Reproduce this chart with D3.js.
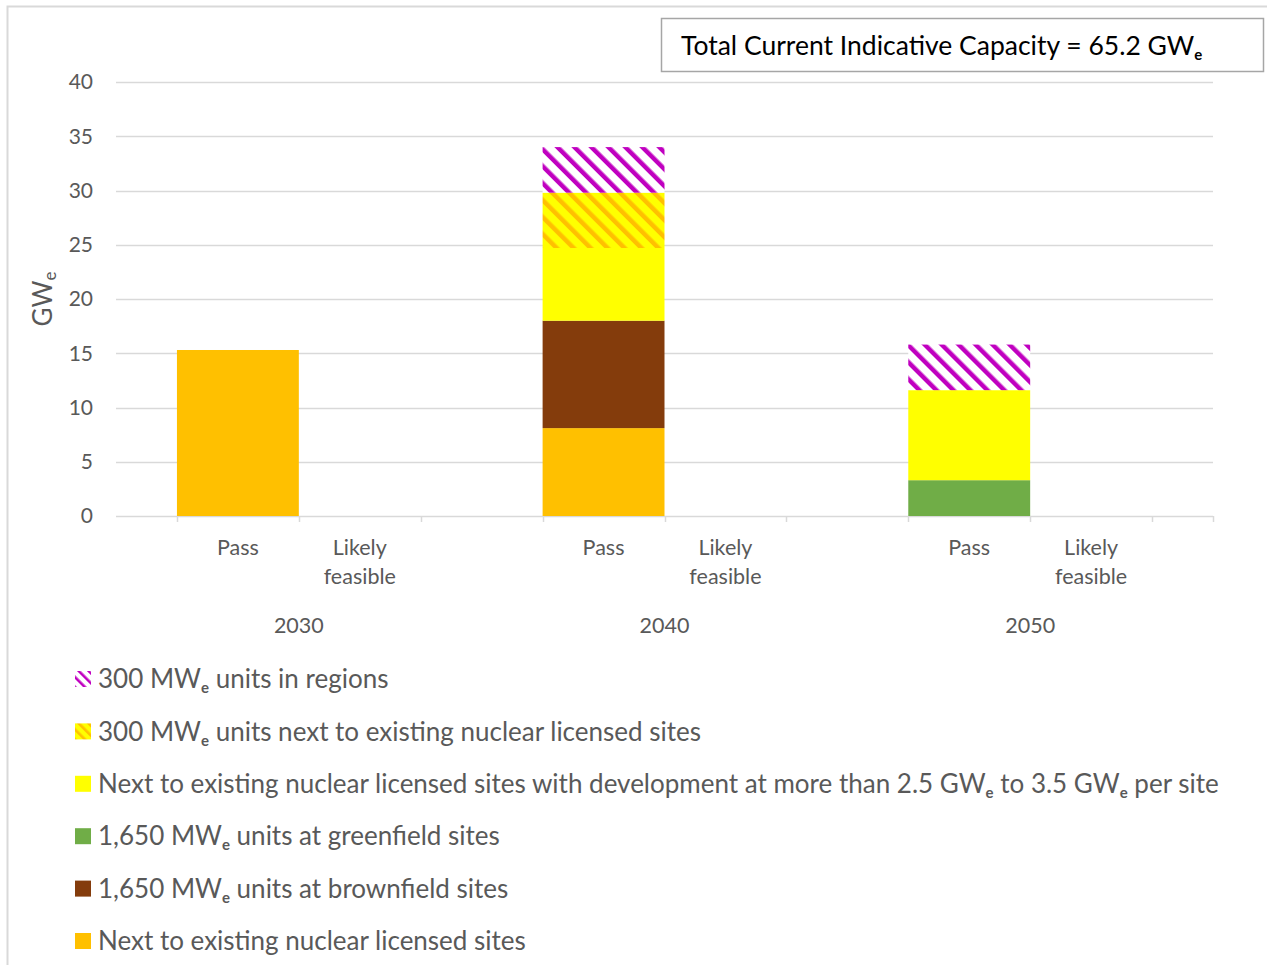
<!DOCTYPE html>
<html>
<head>
<meta charset="utf-8">
<script src="https://cdn.jsdelivr.net/npm/d3@7"></script>
<style>
  body { margin: 0; background: #fff; }
  text { font-family: Lato, "Open Sans", sans-serif; }
</style>
</head>
<body>
<script>
// data
const years = ["2030", "2040", "2050"];
const statuses = ["Pass", "Likely feasible"];
// one value per year/status pair: 2030 Pass, 2030 Likely, 2040 Pass, 2040 Likely, 2050 Pass, 2050 Likely
const seriesKeys = ["licensed", "brownfield", "greenfield", "licensedDense", "smrLicensed", "smrRegions"];
const seriesLabels = [
  "Next to existing nuclear licensed sites",
  "1,650 MW_e units at brownfield sites",
  "1,650 MW_e units at greenfield sites",
  "Next to existing nuclear licensed sites with development at more than 2.5 GW_e to 3.5 GW_e per site",
  "300 MW_e units next to existing nuclear licensed sites",
  "300 MW_e units in regions"
];
const licensed      = [15.3, 0, 8.1, 0, 0,   0];
const brownfield    = [0,    0, 9.9, 0, 0,   0];
const greenfield    = [0,    0, 0,   0, 3.3, 0];
const licensedDense = [0,    0, 6.7, 0, 8.3, 0];
const smrLicensed   = [0,    0, 5.1, 0, 0,   0];
const smrRegions    = [0,    0, 4.2, 0, 4.2, 0];
const yTicks = [0, 5, 10, 15, 20, 25, 30, 35, 40];
const totalLabel = "Total Current Indicative Capacity = 65.2 GW_e";

const W = 1267, H = 965;
const margin = { left: 116, right: 54, top: 82, bottom: 449 };
const grey = "#595959";

// rows for the stack
const rows = [];
years.forEach((y, i) => statuses.forEach((s, j) => {
  const k = i * 2 + j;
  rows.push({
    key: y + "|" + s, year: y, status: s,
    licensed: licensed[k], brownfield: brownfield[k], greenfield: greenfield[k],
    licensedDense: licensedDense[k], smrLicensed: smrLicensed[k], smrRegions: smrRegions[k]
  });
}));

// slots: year groups separated by an empty slot
const slots = [];
years.forEach((y, i) => {
  statuses.forEach(s => slots.push(y + "|" + s));
  if (i < years.length - 1) slots.push("gap" + i);
});

const x = d3.scaleBand()
  .domain(slots)
  .range([margin.left, W - margin.right])
  .paddingInner(0)
  .paddingOuter(0.5);
const y = d3.scaleLinear()
  .domain([0, 40])
  .range([H - margin.bottom, margin.top]);

const stack = d3.stack().keys(seriesKeys);
const stacked = stack(rows);

const svg = d3.select("body").append("svg")
  .attr("width", W)
  .attr("height", H);

//花纹
const defs = svg.append("defs");
function hatch(id, bg, fg, size, sw) {
  const p = defs.append("pattern")
    .attr("id", id)
    .attr("patternUnits", "userSpaceOnUse")
    .attr("width", size)
    .attr("height", size)
    .attr("patternTransform", "rotate(-45)");
  p.append("rect").attr("width", size).attr("height", size).attr("fill", bg);
  p.append("rect").attr("width", sw).attr("height", size).attr("fill", fg);
}
hatch("hMag", "#fff", "#c000c0", 12, 4.5);
hatch("hOra", "#ffff00", "#ffc000", 12, 4.5);
hatch("hMagS", "#fff", "#c000c0", 7, 2.6);
hatch("hOraS", "#ffff00", "#ffc000", 7, 2.6);

const fills = {
  licensed: "#ffc000", brownfield: "#843c0c", greenfield: "#70ad47",
  licensedDense: "#ffff00", smrLicensed: "url(#hOra)", smrRegions: "url(#hMag)"
};
const swatch = {
  licensed: "#ffc000", brownfield: "#843c0c", greenfield: "#70ad47",
  licensedDense: "#ffff00", smrLicensed: "url(#hOraS)", smrRegions: "url(#hMagS)"
};

// chart frame
svg.append("rect")
  .attr("x", 7.5).attr("y", 6.5)
  .attr("width", W + 20).attr("height", H + 20)
  .attr("fill", "none").attr("stroke", "#d9d9d9").attr("stroke-width", 2);

//网格
svg.append("g")
  .selectAll("line")
  .data(yTicks)
  .join("line")
  .attr("x1", margin.left).attr("x2", W - margin.right)
  .attr("y1", d => Math.round(y(d)) + 0.5).attr("y2", d => Math.round(y(d)) + 0.5)
  .attr("stroke", "#d9d9d9").attr("stroke-width", 1.5);

svg.append("g")
  .selectAll("text")
  .data(yTicks)
  .join("text")
  .attr("x", 93).attr("y", d => y(d))
  .attr("dy", "0.35em")
  .attr("text-anchor", "end")
  .attr("fill", grey)
  .attr("font-size", 21)
  .text(d => d);

// y title
const yt = svg.append("text")
  .attr("transform", "translate(52," + y(20) + ") rotate(-90)")
  .attr("text-anchor", "middle")
  .attr("fill", grey)
  .attr("font-size", 26);
yt.append("tspan").text("GW");
yt.append("tspan").attr("font-size", 17).attr("dy", 4).text("e");

//柱子
svg.append("g")
  .selectAll("g")
  .data(stacked)
  .join("g")
  .attr("fill", d => fills[d.key])
  .selectAll("rect")
  .data(d => d.filter(s => s[1] > s[0]))
  .join("rect")
  .attr("x", d => x(d.data.key))
  .attr("width", x.bandwidth())
  .attr("y", d => y(d[1]))
  .attr("height", d => y(d[0]) - y(d[1]));

// x ticks at slot edges
const edges = [];
slots.forEach(s => { edges.push(x(s)); });
edges.push(x(slots[slots.length - 1]) + x.bandwidth());
edges.push(W - margin.right);
svg.append("g")
  .selectAll("line")
  .data(edges)
  .join("line")
  .attr("x1", d => Math.round(d) + 0.5).attr("x2", d => Math.round(d) + 0.5)
  .attr("y1", y(0)).attr("y2", y(0) + 6)
  .attr("stroke", "#d9d9d9").attr("stroke-width", 1.5);

// x labels
const xl = svg.append("g")
  .selectAll("text")
  .data(rows)
  .join("text")
  .attr("x", d => x(d.key) + x.bandwidth() / 2)
  .attr("y", 555)
  .attr("text-anchor", "middle")
  .attr("fill", grey)
  .attr("font-size", 21.5);
xl.each(function (d) {
  const words = d.status.split(" ");
  words.forEach((w, i) => {
    d3.select(this).append("tspan")
      .attr("x", x(d.key) + x.bandwidth() / 2)
      .attr("dy", i ? 29 : 0)
      .text(w);
  });
});

svg.append("g")
  .selectAll("text")
  .data(years)
  .join("text")
  .attr("x", d => x(d + "|" + statuses[0]) + x.bandwidth())
  .attr("y", 633)
  .attr("text-anchor", "middle")
  .attr("fill", grey)
  .attr("font-size", 21.5)
  .text(d => d);

// text with subscript e
function subText(sel, str, sub) {
  str.split("_e").forEach((part, i) => {
    if (i > 0) sel.append("tspan").attr("font-size", sub).attr("font-weight", 700).attr("dy", 5).text("e");
    sel.append("tspan").attr("dy", i > 0 ? -5 : null).text(part);
  });
}

//图例
const legend = svg.append("g")
  .selectAll("g")
  .data(seriesKeys.map((k, i) => ({ key: k, label: seriesLabels[i] })).reverse())
  .join("g")
  .attr("transform", (d, i) => "translate(75," + (679 + i * 52.4) + ")");
legend.append("rect")
  .attr("y", -8).attr("width", 16).attr("height", 16)
  .attr("fill", d => swatch[d.key]);
legend.append("text")
  .attr("x", 23).attr("dy", "0.35em")
  .attr("fill", grey)
  .attr("font-size", 26)
  .each(function (d) { subText(d3.select(this), d.label, 15); });

// total box
svg.append("rect")
  .attr("x", 661.5).attr("y", 18.5)
  .attr("width", 602).attr("height", 53)
  .attr("fill", "#fff").attr("stroke", "#a6a6a6").attr("stroke-width", 1.5);
const tt = svg.append("text")
  .attr("x", 681).attr("y", 46).attr("dy", "0.35em")
  .attr("fill", "#000")
  .attr("font-size", 26.5);
subText(tt, totalLabel, 15);
</script>
</body>
</html>
